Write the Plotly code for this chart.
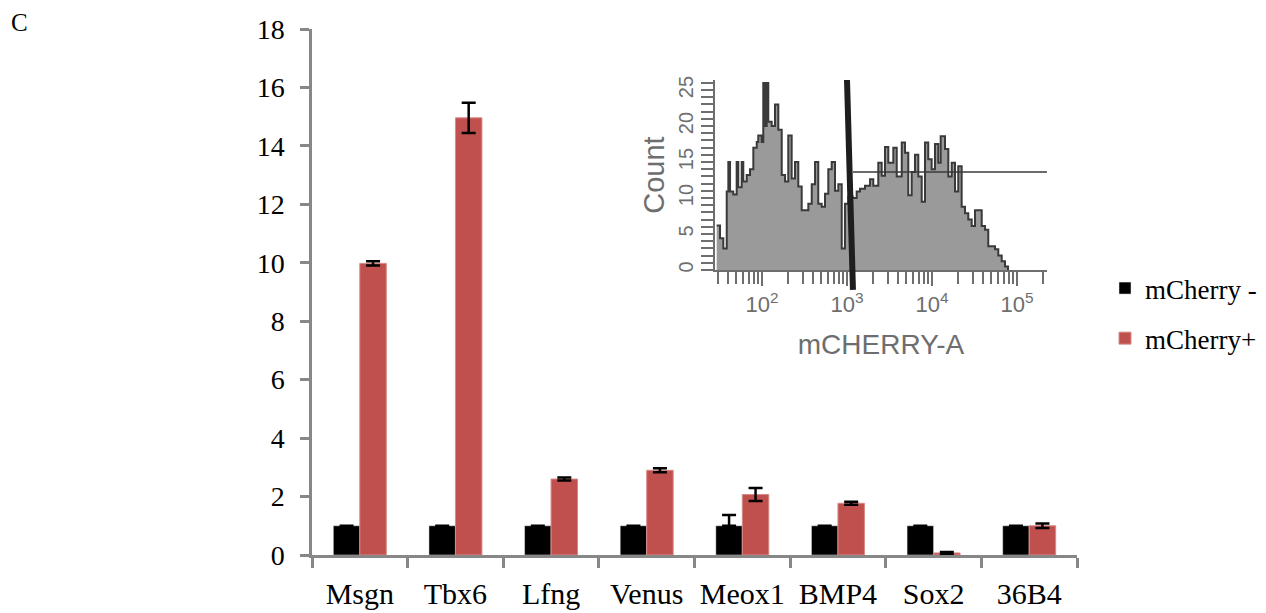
import plotly.graph_objects as go
import numpy as np

# ---------------- data ----------------
genes = ["Msgn", "Tbx6", "Lfng", "Venus", "Meox1", "BMP4", "Sox2", "36B4"]
neg_values = [1, 1, 1, 1, 1, 1, 1, 1]
neg_errors = [0, 0, 0, 0, 0, 0, 0, 0]
neg_errors_up = [0, 0, 0, 0, 0.37, 0, 0, 0]
pos_values = [9.98, 14.96, 2.6, 2.9, 2.07, 1.77, 0.07, 1.0]
pos_errors = [0.07, 0.52, 0.05, 0.07, 0.22, 0.05, 0.03, 0.08]
y_ticks = [0, 2, 4, 6, 8, 10, 12, 14, 16, 18]

# inset flow-cytometry histogram (x in log10 decades of mCHERRY-A)
hist_log = [1.467, 1.506, 1.545, 1.585, 1.604, 1.624, 1.662, 1.702, 1.721, 1.761,
            1.780, 1.820, 1.859, 1.898, 1.938, 1.956, 1.996, 2.015, 2.035, 2.055,
            2.074, 2.114, 2.153, 2.192, 2.232, 2.271, 2.309, 2.349, 2.388, 2.427,
            2.467, 2.506, 2.545, 2.585, 2.624, 2.662, 2.702, 2.741, 2.780, 2.820,
            2.859, 2.898, 2.938, 2.976, 3.015, 3.066, 3.114, 3.153, 3.212, 3.271,
            3.309, 3.368, 3.408, 3.447, 3.486, 3.545, 3.585, 3.644, 3.682, 3.721,
            3.761, 3.800, 3.839, 3.879, 3.918, 3.956, 3.996, 4.035, 4.074, 4.102,
            4.153, 4.192, 4.232, 4.271, 4.309, 4.349, 4.388, 4.427, 4.467, 4.506,
            4.545, 4.585, 4.624, 4.662, 4.702, 4.741, 4.780, 4.820, 4.859, 4.894]
hist_count = [6.2, 4.4, 3.0, 10.9, 15.0, 10.9, 10.5, 15.0, 11.5, 15.0,
              12.3, 13.2, 14.0, 17.0, 17.8, 18.7, 17.8, 26.0, 20.0, 26.0,
              20.6, 20.0, 23.0, 19.5, 13.2, 12.3, 18.7, 12.7, 15.0, 11.6,
              8.3, 8.3, 9.2, 11.9, 15.0, 9.2, 8.8, 10.6, 14.0, 15.0,
              11.0, 11.9, 3.0, 9.2, 10.2, 10.0, 10.9, 11.3, 11.7, 12.6,
              11.7, 14.9, 13.1, 17.1, 14.9, 17.0, 13.0, 17.7, 16.3, 10.4,
              13.6, 16.0, 13.0, 9.5, 17.7, 15.4, 14.0, 17.5, 14.9, 18.6,
              16.8, 13.0, 14.9, 10.9, 14.4, 8.8, 7.9, 7.0, 6.1, 8.3,
              8.3, 6.1, 5.6, 3.3, 3.3, 2.9, 2.0, 1.2, 0.5, 0.0]
inset_decades = [2, 3, 4, 5]
inset_labels = ["10<sup>2</sup>", "10<sup>3</sup>", "10<sup>4</sup>", "10<sup>5</sup>"]
count_ticks = [0, 5, 10, 15, 20, 25]
gate_x = [3.0, 3.07]
gate_level = 13.6

# ---------------- styles ----------------
serif = "Liberation Serif"
sans = "Liberation Sans"
axis_gray = "#878787"
inset_gray = "#6e6e6e"
W, H = 1266, 613
OFF = 8  # page body offset


def fx(px):
    return (px - OFF) / W


def fy(py):
    return 1 - (py - OFF) / H


fig = go.Figure()
fig.add_trace(go.Bar(
    x=genes, y=neg_values, name="mCherry -", marker_color="#000000",
    error_y=dict(type="data", symmetric=False, array=neg_errors_up, arrayminus=neg_errors,
                 color="#000000", thickness=2.5, width=7),
    legendgroup="a"))
fig.add_trace(go.Bar(
    x=genes, y=pos_values, name="mCherry+", marker_color="#C0504D",
    marker_line=dict(color="#D98A88", width=1),
    error_y=dict(type="data", array=pos_errors, color="#000000", thickness=2.5, width=7),
    legendgroup="b"))

fig.add_trace(go.Scatter(
    x=hist_log, y=hist_count, mode="lines", line_shape="hv",
    line=dict(color="#3a3a3a", width=2), fill="tozeroy", fillcolor="#9a9a9a",
    xaxis="x2", yaxis="y2", showlegend=False, hoverinfo="skip"))

# log minor ticks for inset
minor_vals = []
for d in [1, 2, 3, 4, 5]:
    for k in range(2, 10):
        v = float(np.log10(k * 10 ** d))
        if 1.447 <= v <= 5.353:
            minor_vals.append(v)

fig.update_layout(
    width=W, height=H,
    margin=dict(l=0, r=0, t=0, b=0, autoexpand=False),
    paper_bgcolor="white", plot_bgcolor="rgba(0,0,0,0)",
    barmode="group", bargap=0.446, bargroupgap=0,
    font=dict(family=serif, size=27, color="#000000"),
    xaxis=dict(domain=[fx(312), fx(1077)], showline=True, linecolor=axis_gray,
               linewidth=2.5, ticks="outside", tickson="boundaries", ticklen=10,
               tickcolor=axis_gray, tickwidth=2.5, showgrid=False, zeroline=False,
               automargin=False, tickangle=0,
               tickfont=dict(family=serif, size=30), ticklabelstandoff=10),
    yaxis=dict(domain=[fy(555), fy(29)], range=[0, 18], tickvals=y_ticks,
               showline=True, linecolor=axis_gray, linewidth=2.5, ticks="outside",
               ticklen=9, tickcolor=axis_gray, tickwidth=2.5, showgrid=False,
               zeroline=False, automargin=False,
               tickfont=dict(family=serif, size=28), ticklabelstandoff=10),
    xaxis2=dict(domain=[fx(715), fx(1047)], anchor="y2", range=[1.447, 5.353],
                tickvals=inset_decades, ticktext=inset_labels, showline=True,
                linecolor=inset_gray, linewidth=2, ticks="outside", ticklen=14,
                tickcolor=inset_gray, tickwidth=2,
                minor=dict(tickvals=minor_vals, ticks="outside", ticklen=12,
                           tickcolor=inset_gray, tickwidth=2),
                showgrid=False, zeroline=False, automargin=False,
                tickfont=dict(family=sans, size=22, color=inset_gray),
                title=dict(text="mCHERRY-A", font=dict(family=sans, size=28, color=inset_gray),
                           standoff=18)),
    yaxis2=dict(domain=[fy(270), fy(80)], anchor="x2", range=[0, 26.4],
                tickvals=count_ticks, tickangle=-90, showline=True, linecolor=inset_gray,
                linewidth=2, ticks="outside", ticklen=12, tickcolor=inset_gray, tickwidth=2,
                minor=dict(dtick=1, ticks="outside", ticklen=12, tickcolor=inset_gray,
                           tickwidth=1.5),
                showgrid=False, zeroline=False, automargin=False,
                tickfont=dict(family=sans, size=20, color=inset_gray),
                title=dict(text="Count", font=dict(family=sans, size=29, color=inset_gray),
                           standoff=2)),
    legend=dict(x=fx(1105), y=fy(264), xanchor="left", yanchor="top",
                font=dict(family="Liberation Serif", size=27, color="#000000"),
                tracegroupgap=12, bgcolor="rgba(0,0,0,0)"),
    showlegend=True,
)

fig.add_shape(type="line", xref="x2", yref="y2 domain", x0=gate_x[0], y0=1.0,
              x1=gate_x[1], y1=-0.105, line=dict(color="#1e1e1e", width=6))
fig.add_shape(type="line", xref="x2", yref="y2", x0=gate_x[1], x1=5.353,
              y0=gate_level, y1=gate_level, line=dict(color="#3a3a3a", width=1.5))

fig.add_annotation(text="C", xref="paper", yref="paper", x=fx(9), y=fy(22),
                   xanchor="left", yanchor="middle",
                   showarrow=False, font=dict(family=serif, size=25, color="#000000"))

fig.write_html("out.html")
